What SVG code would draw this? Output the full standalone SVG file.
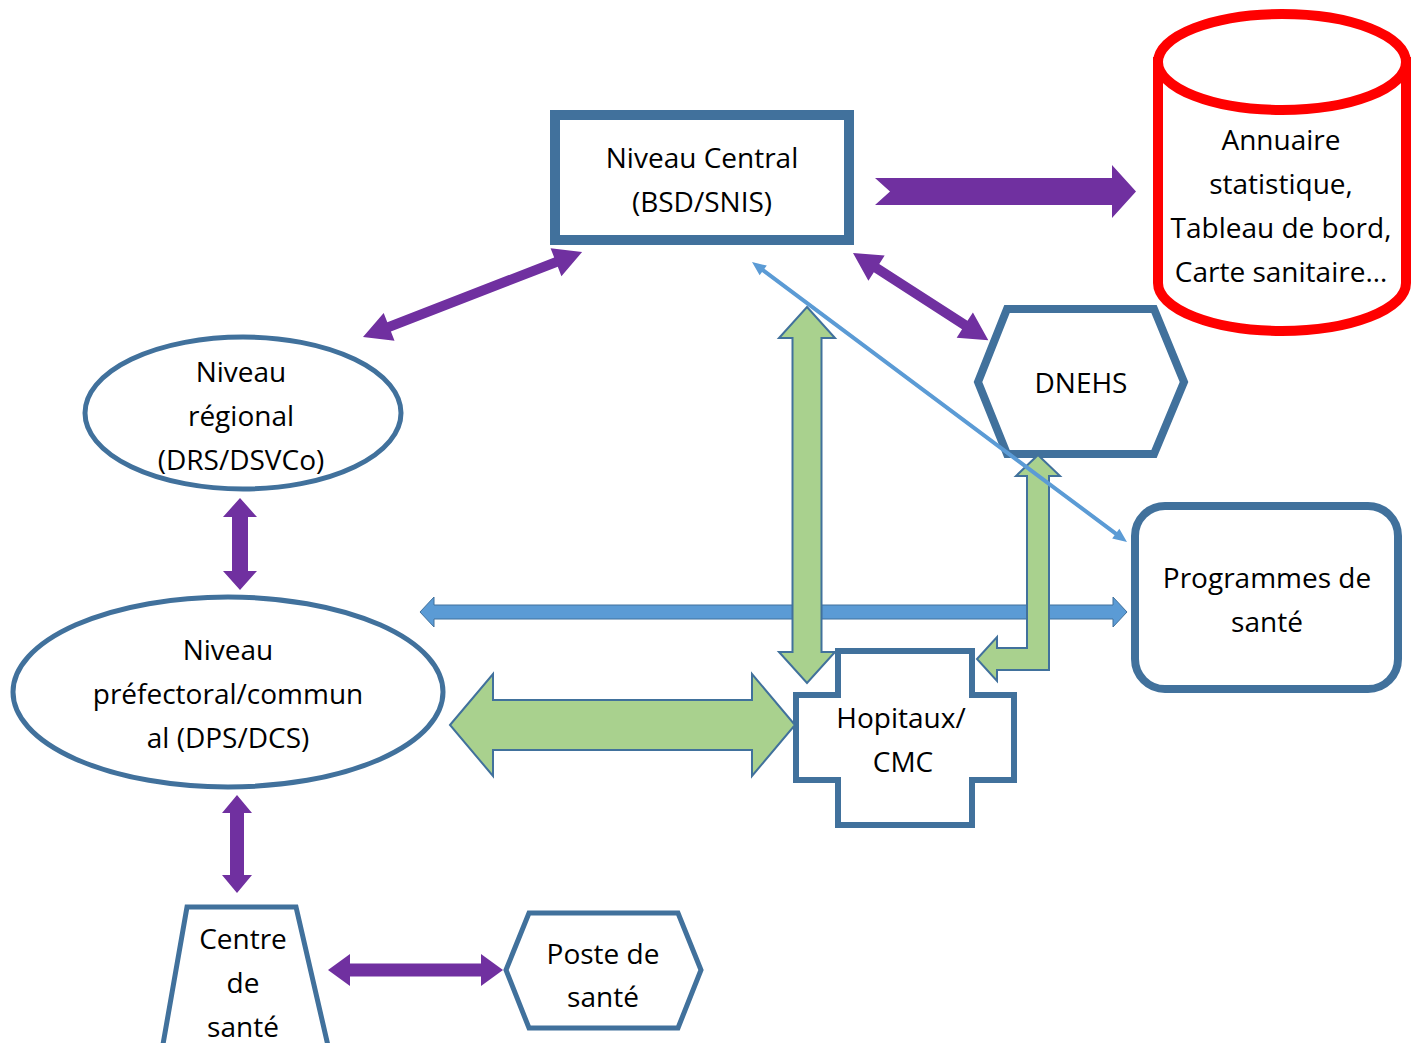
<svg xmlns="http://www.w3.org/2000/svg" width="1421" height="1043" viewBox="0 0 1421 1043">
<style>
.node{fill:#fff;stroke:#41719C;}
.t{font-family:"Open Sans","Noto Sans","Liberation Sans",sans-serif;font-size:28px;fill:#000;text-anchor:middle;}
.purple{fill:#7030A0;}
.blue{fill:#5B9BD5;stroke:#41719C;stroke-width:1;}
.green{fill:#A9D18E;stroke:#41719C;stroke-width:2;}
</style>
<rect width="1421" height="1043" fill="#fff"/>
<g id="nodes">
<g id="central">
<rect class="node" x="555" y="115" width="294" height="125" stroke-width="10"/>
<text class="t" x="702" y="168">Niveau Central</text>
<text class="t" x="702" y="212">(BSD/SNIS)</text>
</g>
<g id="annuaire">
<path d="M1158,62 L1158,283 A124,48 0 0 0 1406,283 L1406,62 Z" fill="#fff" stroke="#FF0000" stroke-width="10"/>
<ellipse cx="1282" cy="62" rx="124" ry="48" fill="#fff" stroke="#FF0000" stroke-width="10"/>
<text class="t" x="1281" y="150">Annuaire</text>
<text class="t" x="1281" y="194">statistique,</text>
<text class="t" x="1281" y="238">Tableau de bord,</text>
<text class="t" x="1281" y="282">Carte sanitaire…</text>
</g>
<g id="regional">
<ellipse class="node" cx="243" cy="413" rx="158" ry="76" stroke-width="5"/>
<text class="t" x="241" y="382">Niveau</text>
<text class="t" x="241" y="426">régional</text>
<text class="t" x="241" y="470">(DRS/DSVCo)</text>
</g>
<g id="prefectoral">
<ellipse class="node" cx="228" cy="692" rx="215" ry="95" stroke-width="5"/>
<text class="t" x="228" y="660">Niveau</text>
<text class="t" x="228" y="704">préfectoral/commun</text>
<text class="t" x="228" y="748">al (DPS/DCS)</text>
</g>
<g id="centre-sante">
<polygon class="node" points="187,907 296,907 329,1050 162,1050" stroke-width="5"/>
<text class="t" x="243" y="949">Centre</text>
<text class="t" x="243" y="993">de</text>
<text class="t" x="243" y="1037">santé</text>
</g>
<g id="poste-sante">
<polygon class="node" points="506,970 529,913 678,913 701,970 678,1028 529,1028" stroke-width="5"/>
<text class="t" x="603" y="964">Poste de</text>
<text class="t" x="603" y="1007">santé</text>
</g>
<g id="dnehs">
<polygon class="node" points="978,382 1007,309 1154,309 1184,382 1154,454 1007,454" stroke-width="8"/>
<text class="t" x="1081" y="393">DNEHS</text>
</g>
<g id="programmes">
<rect class="node" x="1135" y="506" width="263" height="183" rx="30" stroke-width="8"/>
<text class="t" x="1267" y="588">Programmes de</text>
<text class="t" x="1267" y="632">santé</text>
</g>
<g id="hopitaux">
<path class="node" d="M838,651 H972 V695 H1014 V780 H972 V825 H838 V780 H796 V695 H838 Z" stroke-width="6"/>
<text class="t" x="901" y="728">Hopitaux/</text>
<text class="t" x="903" y="772">CMC</text>
</g>
</g>
<g id="connectors">
<polygon class="purple" points="875,178 1112,178 1112,165 1136,191.5 1112,218 1112,205 875,205 890,191.5"/>
<polygon class="purple" transform="translate(363,337) rotate(-21.2)" points="0,0 28,-15 28,-5 207,-5 207,-15 235,0 207,15 207,5 28,5 28,15"/>
<polygon class="purple" transform="translate(853,253) rotate(32.8)" points="0,0 28,-15 28,-5 133,-5 133,-15 161,0 133,15 133,5 28,5 28,15"/>
<polygon class="purple" transform="translate(240,498) rotate(90)" points="0,0 19,-17 19,-8 73,-8 73,-17 92,0 73,17 73,8 19,8 19,17"/>
<polygon class="purple" transform="translate(237,795) rotate(90)" points="0,0 18,-15 18,-7 80,-7 80,-15 98,0 80,15 80,7 18,7 18,15"/>
<polygon class="purple" transform="translate(328,970)" points="0,0 22,-16 22,-6.5 153,-6.5 153,-16 175,0 153,16 153,6.5 22,6.5 22,16"/>
<polygon class="blue" transform="translate(420,612)" points="0,0 14,-15 14,-7 693,-7 693,-15 707,0 693,15 693,7 14,7 14,15"/>
<polygon class="green" transform="translate(450,725)" points="0,0 43,-51 43,-25 302,-25 302,-51 345,0 302,51 302,25 43,25 43,51"/>
<polygon class="green" transform="translate(807,307) rotate(90)" points="0,0 31,-28 31,-14.5 345,-14.5 345,-28 376,0 345,28 345,14.5 31,14.5 31,28"/>
<polygon class="green" points="1038,455 1060,476 1049,476 1049,670 997,670 997,681 977,659 997,637 997,648 1027,648 1027,476 1016,476"/>
<polygon fill="#5B9BD5" transform="translate(752,262) rotate(36.75)" points="0,0 14,-6 14,-2 454,-2 454,-6 468,0 454,6 454,2 14,2 14,6"/>
</g>
</svg>
